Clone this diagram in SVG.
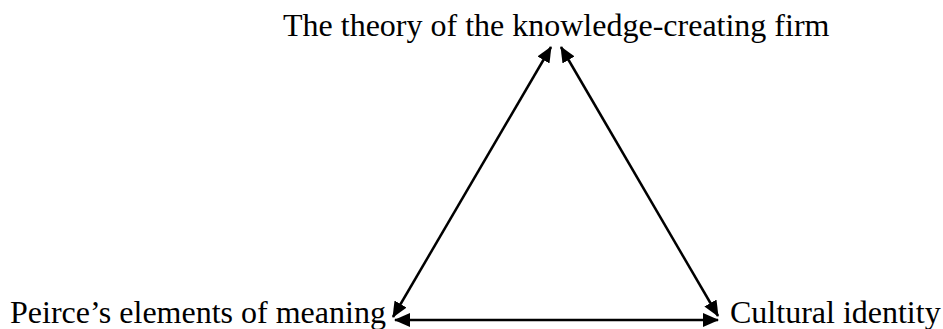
<svg xmlns="http://www.w3.org/2000/svg" width="943" height="329" viewBox="0 0 943 329">
  <style>
    .label { font-family: "Liberation Serif", "Times New Roman", serif; font-size: 32px; fill: #000; }
    .conn { stroke: #000; stroke-width: 2.5; fill: none; marker-start: url(#arrow); marker-end: url(#arrow); }
  </style>
  <defs>
    <marker id="arrow" markerUnits="userSpaceOnUse" markerWidth="16" markerHeight="14" viewBox="0 0 16 14" refX="15" refY="7" orient="auto-start-reverse">
      <path d="M0,0 L16,7 L0,14 Z" fill="#000"/>
    </marker>
  </defs>
  <rect width="943" height="329" fill="#fff"/>
  <g id="node-theory">
    <text class="label" x="283" y="36">The theory of the knowledge-creating firm</text>
  </g>
  <g id="node-peirce">
    <text class="label" x="10" y="323">Peirce’s elements of meaning</text>
  </g>
  <g id="node-cultural">
    <text class="label" x="730" y="323">Cultural identity</text>
  </g>
  <g id="connectors">
    <line class="conn" x1="393" y1="317" x2="551" y2="47"/>
    <line class="conn" x1="561" y1="47" x2="718" y2="316"/>
    <line class="conn" x1="395" y1="320" x2="718" y2="320"/>
  </g>
</svg>
